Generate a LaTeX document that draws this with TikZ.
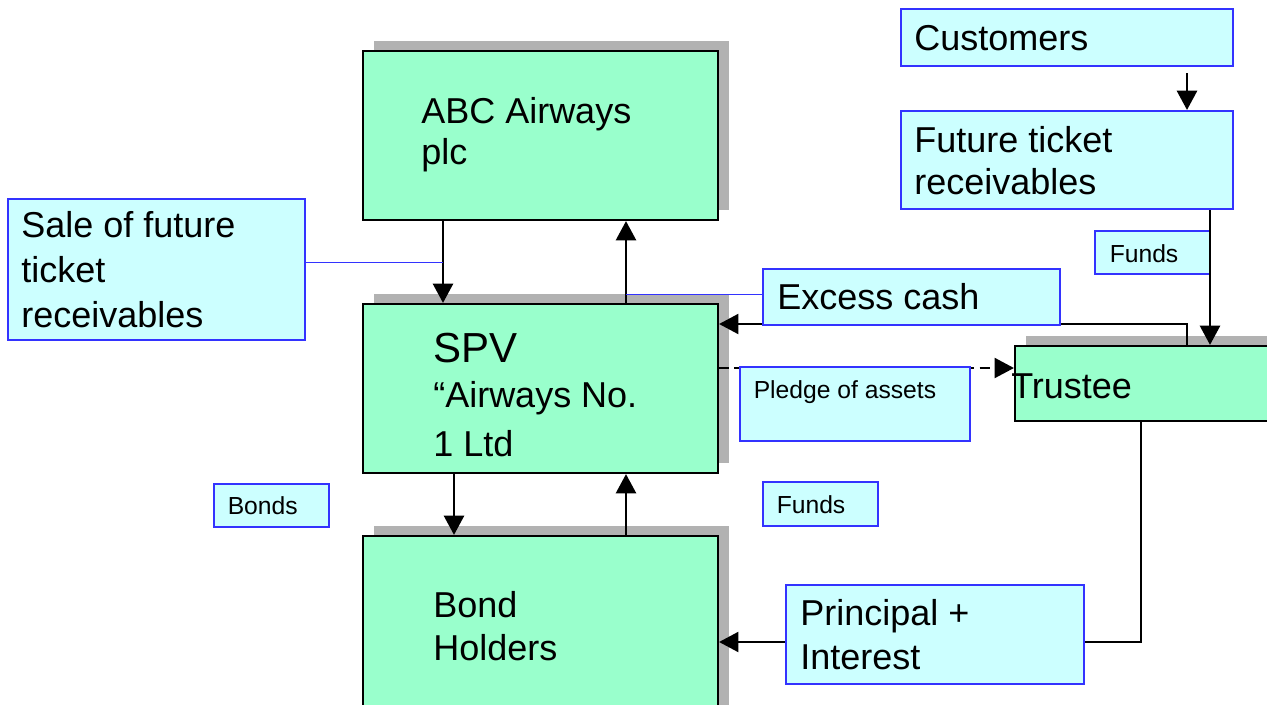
\documentclass[tikz,border=0pt]{standalone}
\usepackage{fontspec}
\setmainfont{Liberation Sans}
\usetikzlibrary{positioning, shadows, arrows.meta, calc}

\definecolor{mint}{RGB}{153,255,204}
\definecolor{pale}{RGB}{204,255,255}
\definecolor{noteblue}{RGB}{51,51,255}
\definecolor{shadowgray}{RGB}{178,178,178}

\begin{document}
\begin{tikzpicture}[
    x=0.75pt, y=-0.75pt, % pixel grid, y going down
    % Styles
    party/.style={ % Green party box with a flat shadow
        rectangle,
        draw,
        line width=1.6pt,
        fill=mint,
        inner sep=0pt,
        general shadow={fill=shadowgray, draw=none, shadow xshift=8.25pt, shadow yshift=7.5pt}
    },
    note/.style={ % Light blue label box
        rectangle,
        draw=noteblue,
        line width=1.5pt,
        fill=pale,
        inner sep=0pt
    },
    txt/.style={ % Large text, placed by the baseline of its last line
        anchor=base west,
        inner sep=0pt,
        align=left,
        font=\fontsize{27}{32.25}\selectfont
    },
    smalltxt/.style={ % Small text
        anchor=base west,
        inner sep=0pt,
        font=\fontsize{18.5}{22}\selectfont
    },
    flow/.style={
        -{Triangle[length=14.5pt, width=15pt]},
        line width=2.1pt
    },
    thinflow/.style={ % Flows out of the trustee
        flow,
        line width=1.6pt
    },
    pledge/.style={ % Dashed flow
        flow,
        line width=1.6pt,
        dash pattern=on 7.5pt off 4pt
    },
    callout/.style={ % Thin line from a label to its arrow
        draw=noteblue,
        line width=0.75pt
    }
]
    \useasboundingbox (0,0) rectangle (1267,704);

    % Parties
    \node[party, minimum width=266.25pt, minimum height=126.75pt] (abc) at (540.5,135.5) {};
    \node[party, minimum width=266.25pt, minimum height=126.75pt] (spv) at (540.5,388.5) {};
    \node[party, minimum width=266.25pt, minimum height=153pt] (bh) at (540.5,638) {};
    \node[party, minimum width=206.25pt, minimum height=56.25pt] (trustee) at (1152.5,383.5) {};

    % Flows between the parties
    \draw[flow] (abc.south -| 443,0) -- (spv.north -| 443,0);
    \draw[flow] (spv.north -| 626,0) -- (abc.south -| 626,0);
    \draw[flow] (spv.south -| 454,0) -- (bh.north -| 454,0);
    \draw[flow] (bh.north -| 626,0) -- (spv.south -| 626,0);
    \draw[thinflow] (trustee.north -| 1187,0) |- (spv.east |- 0,324);
    \draw[pledge] (spv.east |- 0,368) -- (trustee.west |- 0,368);
    \draw[thinflow] (trustee.south -| 1141,0) |- (bh.east |- 0,642);

    % Labels
    \node[note, minimum width=249pt, minimum height=42.75pt] (cust) at (1067,37.5) {};
    \node[note, minimum width=249pt, minimum height=73.5pt] (ftr) at (1067,160) {};
    \node[note, minimum width=86.25pt, minimum height=32.25pt] (funds1) at (1152.5,252.5) {};
    \node[note, minimum width=222.75pt, minimum height=42pt] (excess) at (911.5,297) {};
    \node[note, minimum width=222.75pt, minimum height=105.75pt] (sale) at (156.5,269.5) {};
    \node[note, minimum width=172.5pt, minimum height=55.5pt] (pledgebox) at (855,404) {};
    \node[note, minimum width=86.25pt, minimum height=32.25pt] (bonds) at (271.5,505.5) {};
    \node[note, minimum width=86.25pt, minimum height=33pt] (funds2) at (820.5,504) {};
    \node[note, minimum width=223.5pt, minimum height=74.25pt] (principal) at (935,634.5) {};

    % Flows from and into the labels
    \draw[flow] ([yshift=-4.5pt]cust.south -| 1187,0) -- (ftr.north -| 1187,0);
    \draw[flow] (ftr.south -| 1210,0) -- (trustee.north -| 1210,0);

    % Callout lines
    \coordinate (sale-pt) at (443,262);
    \coordinate (excess-pt) at (626,294);
    \draw[callout] (sale.east |- sale-pt) -- (sale-pt);
    \draw[callout] (excess.west |- excess-pt) -- (excess-pt);

    % Texts
    \node[txt, font=\fontsize{27}{30.75}\selectfont] (abc-txt) at (421,164) {ABC Airways\\plc};
    \node[txt, font=\fontsize{31.5}{36}\selectfont] (spv-txt) at (433,362) {SPV};
    \node[txt, font=\fontsize{27}{36.75}\selectfont] (spv-name) at (433,456) {“Airways No.\\1 Ltd};
    \node[txt] (bh-txt) at (433,660) {Bond\\Holders};
    \node[txt] (trustee-txt) at (1011,398) {Trustee};
    \node[txt] (cust-txt) at (914,50) {Customers};
    \node[txt, font=\fontsize{27}{31.5}\selectfont] (ftr-txt) at (914,194) {Future ticket\\receivables};
    \node[txt] (excess-txt) at (777,309) {Excess cash};
    \node[txt, font=\fontsize{27}{33.4}\selectfont] (sale-txt) at (21,327) {Sale of future\\ticket\\receivables};
    \node[txt, font=\fontsize{27}{33}\selectfont] (principal-txt) at (800,669) {Principal +\\Interest};
    \node[smalltxt] (funds1-txt) at (1109.5,262) {Funds};
    \node[smalltxt] (pledge-txt) at (753.5,398) {Pledge of assets};
    \node[smalltxt] (bonds-txt) at (227.5,514) {Bonds};
    \node[smalltxt] (funds2-txt) at (776.5,513) {Funds};

\end{tikzpicture}
\end{document}
